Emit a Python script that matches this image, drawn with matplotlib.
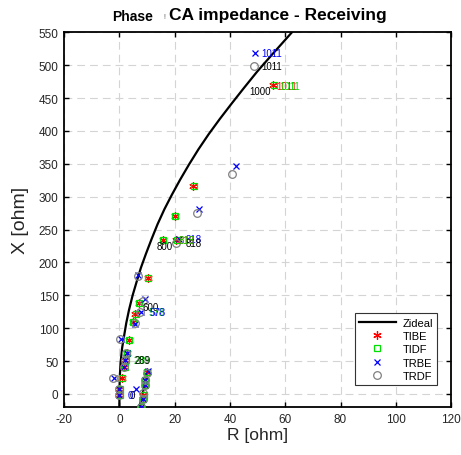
import numpy as np
import matplotlib
matplotlib.use("Agg")
import matplotlib.pyplot as plt

plt.rcParams['font.family'] = ['Liberation Sans', 'DejaVu Sans']
plt.rcParams['axes.unicode_minus'] = False

# ideal impedance curve, NaN splits the two pieces
zideal_r = [0.0, 0.05, 0.2, 0.5, 1.0, 1.7, 2.5, 3.5, 4.8, 6.2, 7.8, 9.6, 11.6, 13.8,
            16.3, 19.0, 22.0, 25.2, 28.6, 32.3, 36.3, 40.5, 45.0, 49.8, 54.8, 60.1, 65.6,
            np.nan, 7.0, 10.3]
zideal_x = [-20, 10, 30, 50, 70, 88, 108, 128, 150, 170, 192, 213, 235, 258,
            281, 303, 326, 349, 372, 395, 418, 441, 465, 490, 514, 539, 565,
            np.nan, -25, 35]

# measured points
tibe_r = [55.4, 26.8, 20.1, 20.5, 15.7, 10.3, 7.0, 5.8, 4.8, 3.4, 2.6, 2.2, 1.8, 0.8, 0.0, 0.0,
          10.0, 9.3, 9.1, 8.7, 8.4, 7.9]
tibe_x = [470, 317, 270, 234, 234, 177, 139, 122, 109, 82, 63, 52, 41, 24, 7, -1,
          33, 22, 13, -1, -8, -20]
tidf_r = [55.9, 27.0, 20.3, 20.8, 15.9, 10.4, 7.1, 5.9, 4.9, 3.5, 2.7, 2.3, 1.9, 0.9, 0.1, 0.1,
          10.1, 9.4, 9.2, 8.8, 8.5, 8.0]
tidf_x = [470, 317, 270, 234, 234, 177, 139, 122, 109, 82, 63, 52, 41, 24, 7, -1,
          33, 22, 13, -1, -8, -20]
trbe_r = [48.9, 42.1, 28.8, 21.5, 6.6, 9.1, 7.9, 5.8, 0.6, 2.6, 2.2, 1.8, -1.8, 0.0, 0.0,
          10.3, 9.3, 9.1, 6.0, 8.5, 7.9]
trbe_x = [519, 347, 282, 235, 181, 144, 124, 106, 83, 63, 52, 41, 24, 7, -1,
          35, 22, 14, 7, -8, -20]
trdf_r = [48.6, 40.6, 28.2, 20.6, 6.6, 8.6, 7.4, 5.5, 0.4, 2.5, 2.1, 1.7, -2.3, -0.1, -0.1,
          10.1, 9.3, 9.1, 8.6, 8.4, 7.9]
trdf_x = [498, 335, 275, 229, 180, 142, 124, 108, 83, 63, 52, 41, 24, 7, -1,
          32, 21, 13, 1, -8, -20]

# point labels
lab_text = ['1011', '1011', '1011', '1011', '1000', '818', '818', '818', '818',
            '800', '600', '578', '578', '289', '289', '0', '0']
lab_r = [51.5, 51.5, 56.8, 58.0, 47.0, 24.0, 24.0, 21.3, 21.6,
         13.6, 8.3, 10.6, 11.0, 5.3, 5.5, 3.1, 3.6]
lab_x = [519, 498, 469, 469, 461, 236, 230, 234, 234,
         225, 132, 124, 124, 52, 51, -2, -2]
lab_c = ['blue', 'black', 'red', '#00dd00', 'black', 'blue', 'black', 'red', '#00dd00',
         'black', 'black', '#00cc00', 'blue', '#00cc00', 'black', 'blue', 'black']

fig = plt.figure(figsize=(4.61, 4.56), dpi=100)
ax = fig.add_axes([0.139, 0.105, 0.8395, 0.822])

ax.plot(zideal_r, zideal_x, color='black', lw=1.6, label='Zideal', zorder=3)
ax.plot(tibe_r, tibe_x, ls='none', marker=(6, 2, 0), ms=6, mew=0.9, color='red', label='TIBE', zorder=4)
ax.plot(tidf_r, tidf_x, ls='none', marker='s', ms=4.5, mfc='none', mew=0.9, color='#00e000', label='TIDF', zorder=4)
ax.plot(trbe_r, trbe_x, ls='none', marker='x', ms=4.5, mew=0.9, color='blue', label='TRBE', zorder=5)
ax.plot(trdf_r, trdf_x, ls='none', marker='o', ms=5.5, mfc='none', mew=0.9, color='#808080', label='TRDF', zorder=5)

for t, r, x, c in zip(lab_text, lab_r, lab_x, lab_c):
    ax.text(r, x, t, color=c, fontsize=7, ha='left', va='center', zorder=6)

ax.set_xlim(-20, 120)
ax.set_ylim(-20, 550)
ax.set_xticks(np.arange(-20, 121, 20))
ax.set_yticks(np.arange(0, 551, 50))
ax.grid(True, color='#d4d4d4', lw=0.8, ls=(0, (7, 4.5)))
ax.set_axisbelow(True)
ax.tick_params(direction='in', top=True, right=True, length=3.5, width=1.0,
               labelsize=8.5, labelcolor='#262626', pad=4)
for s in ax.spines.values():
    s.set_linewidth(1.3)

ax.set_xlabel('R [ohm]', fontsize=12.5, color='#262626', labelpad=2)
ax.set_ylabel('X [ohm]', fontsize=14, color='#262626', labelpad=7)

fig.text(0.243, 0.962, 'Phase', fontsize=10, fontweight='bold', ha='left', va='center')
fig.text(0.354, 0.962, '!', fontsize=5, ha='left', va='center', color='#555555')
fig.text(0.366, 0.966, 'CA impedance - Receiving', fontsize=12.5, fontweight='bold', ha='left', va='center')

leg = ax.legend(loc='lower right', bbox_to_anchor=(0.979, 0.043), fontsize=8,
                handlelength=3.3, labelspacing=0.3, borderpad=0.4, handletextpad=0.6,
                fancybox=False, framealpha=1)
leg.get_frame().set_edgecolor('#333333')
leg.get_frame().set_linewidth(0.8)

plt.savefig('out.png', dpi=100)
